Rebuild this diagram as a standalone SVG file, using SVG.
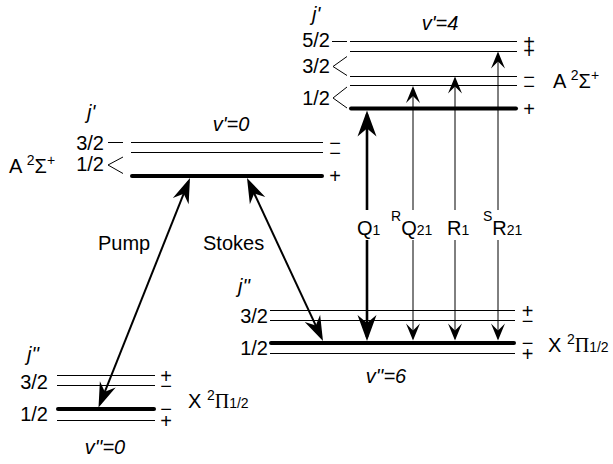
<svg xmlns="http://www.w3.org/2000/svg" width="613" height="464" viewBox="0 0 613 464">
<style>
text{font-family:"Liberation Sans",Arial,sans-serif;font-size:20px;fill:#000}
.it{font-style:italic}
.sg{text-anchor:middle}
.lb{text-anchor:end}
.thin{stroke:#000;stroke-width:1.2;fill:none}
.thick{stroke:#000;stroke-width:4;stroke-linecap:round;fill:none}
.mk{stroke:#000;stroke-width:1;fill:none}
.sm{font-size:14px}
.pi{font-family:"Liberation Serif","Times New Roman",serif}
.a2{stroke:#000;stroke-width:2;fill:none}
.a3{stroke:#000;stroke-width:2.6;fill:none}
.a1{stroke:#000;stroke-width:1;fill:none}
</style>
<defs>
<marker id="hB" markerUnits="userSpaceOnUse" orient="auto-start-reverse" overflow="visible" markerWidth="1" markerHeight="1">
<path d="M4,0 L-21,-8.5 L-13,0 L-21,8.5 Z" fill="#000"/>
</marker>
<marker id="hQ" markerUnits="userSpaceOnUse" orient="auto" overflow="visible" markerWidth="1" markerHeight="1">
<path d="M4,0 L-22,-9.5 L-14,0 L-22,9.5 Z" fill="#000"/>
</marker>
<marker id="hS" markerUnits="userSpaceOnUse" orient="auto" overflow="visible" markerWidth="1" markerHeight="1">
<path d="M2,0 L-15,-7 L-8,0 L-15,7 Z" fill="#000"/>
</marker>
</defs>

<g id="A-v0">
<text class="it" x="87" y="119">j'</text>
<text class="it sg" x="231" y="131">v'=0</text>
<text x="9" y="173">A <tspan class="sm" dy="-8">2</tspan><tspan dy="8">Σ</tspan><tspan class="sm" dy="-8">+</tspan></text>
<text class="lb" x="104" y="150">3/2</text>
<text class="lb" x="104" y="171">1/2</text>
<line class="mk" x1="108" y1="142.5" x2="123" y2="142.5"/>
<polyline class="mk" points="123,157 108,165 123,173.5"/>
<line class="thin" x1="131" y1="142.5" x2="323" y2="142.5"/>
<line class="thin" x1="131" y1="152.5" x2="323" y2="152.5"/>
<line class="thick" x1="132" y1="176" x2="322" y2="176"/>
<text class="sg"><tspan x="335" y="149.5">−</tspan><tspan x="335" y="159.5">−</tspan><tspan x="335" y="183">+</tspan></text>
</g>

<g id="A-v4">
<text class="it" x="312" y="21">j'</text>
<text class="it sg" x="440" y="30">v'=4</text>
<text class="lb" x="330" y="47">5/2</text>
<text class="lb" x="330" y="73">3/2</text>
<text class="lb" x="330" y="105">1/2</text>
<line class="mk" x1="332" y1="41.5" x2="347" y2="41.5"/>
<polyline class="mk" points="347,56.5 333,66.5 347,75.5"/>
<polyline class="mk" points="347,87 333,98 347,108"/>
<line class="thin" x1="350" y1="41.5" x2="517" y2="41.5"/>
<line class="thin" x1="350" y1="51.5" x2="517" y2="51.5"/>
<line class="thin" x1="350" y1="76.5" x2="517" y2="76.5"/>
<line class="thin" x1="350" y1="85.5" x2="517" y2="85.5"/>
<line class="thick" x1="351" y1="108.5" x2="516" y2="108.5"/>
<text class="sg"><tspan x="529" y="48.5">+</tspan><tspan x="529" y="58">+</tspan><tspan x="529" y="83.5">−</tspan><tspan x="529" y="92.5">−</tspan><tspan x="529" y="115.5">+</tspan></text>
<text x="553" y="88">A <tspan class="sm" dy="-8">2</tspan><tspan dy="8">Σ</tspan><tspan class="sm" dy="-8">+</tspan></text>
</g>

<g id="X-v6">
<text class="it" x="238" y="293">j''</text>
<text class="it sg" x="386" y="383">v''=6</text>
<text class="lb" x="268" y="323">3/2</text>
<text class="lb" x="268" y="355">1/2</text>
<line class="thin" x1="270" y1="310.5" x2="515" y2="310.5"/>
<line class="thin" x1="270" y1="320.5" x2="515" y2="320.5"/>
<line class="thick" x1="271" y1="343" x2="514" y2="343"/>
<line class="thin" x1="270" y1="353.5" x2="515" y2="353.5"/>
<text class="sg"><tspan x="527.5" y="317.5">+</tspan><tspan x="527.5" y="327.5">−</tspan><tspan x="527.5" y="350">−</tspan><tspan x="527.5" y="360.5">+</tspan></text>
<text x="548" y="352">X <tspan class="sm" dy="-8">2</tspan><tspan class="pi" dy="8">Π</tspan><tspan class="sm">1/2</tspan></text>
</g>

<g id="X-v0">
<text class="it" x="27" y="361">j''</text>
<text class="it sg" x="105" y="454">v''=0</text>
<text class="lb" x="48" y="389">3/2</text>
<text class="lb" x="48" y="421">1/2</text>
<line class="thin" x1="57" y1="375.5" x2="155" y2="375.5"/>
<line class="thin" x1="57" y1="385.5" x2="155" y2="385.5"/>
<line class="thick" x1="58" y1="409" x2="154" y2="409"/>
<line class="thin" x1="57" y1="420.5" x2="155" y2="420.5"/>
<text class="sg"><tspan x="166" y="382.5">+</tspan><tspan x="166" y="392.5">−</tspan><tspan x="166" y="416">−</tspan><tspan x="166" y="427.5">+</tspan></text>
<text x="188" y="408">X <tspan class="sm" dy="-8">2</tspan><tspan class="pi" dy="8">Π</tspan><tspan class="sm">1/2</tspan></text>
</g>

<g id="connectors">
<line class="a2" x1="100" y1="403.8" x2="188.5" y2="181.7" marker-start="url(#hB)" marker-end="url(#hB)"/>
<line class="a2" x1="248.7" y1="181.6" x2="321.3" y2="337.4" marker-start="url(#hB)" marker-end="url(#hB)"/>
<line class="a3" x1="367" y1="210" x2="367" y2="114.5" marker-end="url(#hQ)"/>
<line class="a3" x1="367" y1="240" x2="367" y2="337" marker-end="url(#hQ)"/>
<line class="a1" x1="413" y1="210" x2="413" y2="88" marker-end="url(#hS)"/>
<line class="a1" x1="413" y1="240" x2="413" y2="338.5" marker-end="url(#hS)"/>
<line class="a1" x1="455" y1="210" x2="455" y2="78.5" marker-end="url(#hS)"/>
<line class="a1" x1="455" y1="240" x2="455" y2="338.5" marker-end="url(#hS)"/>
<line class="a1" x1="498" y1="210" x2="498" y2="53.5" marker-end="url(#hS)"/>
<line class="a1" x1="498" y1="240" x2="498" y2="338.5" marker-end="url(#hS)"/>
<text x="98" y="250">Pump</text>
<text x="203" y="250">Stokes</text>
<text x="357" y="235">Q<tspan class="sm">1</tspan></text>
<text x="391" y="235"><tspan class="sm" dy="-14">R</tspan><tspan dy="14">Q</tspan><tspan class="sm">21</tspan></text>
<text x="447" y="235">R<tspan class="sm">1</tspan></text>
<text x="483" y="235"><tspan class="sm" dy="-14">S</tspan><tspan dy="14">R</tspan><tspan class="sm">21</tspan></text>
</g>
</svg>
